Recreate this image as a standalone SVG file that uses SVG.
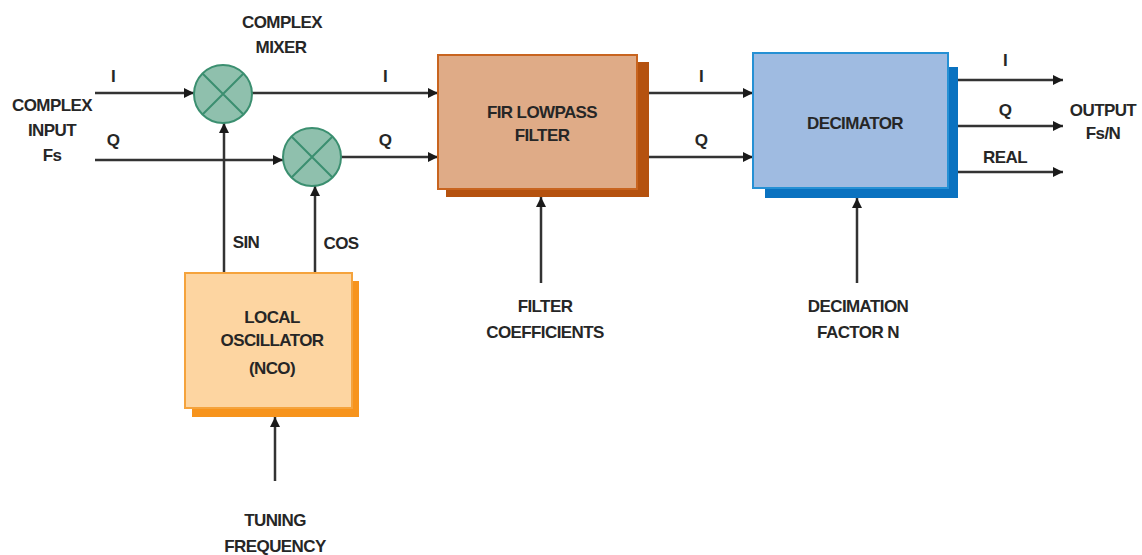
<svg xmlns="http://www.w3.org/2000/svg" width="1142" height="555" viewBox="0 0 1142 555">
<defs>
<marker id="ah" viewBox="0 0 10 10" refX="10" refY="5" markerWidth="10" markerHeight="10" markerUnits="userSpaceOnUse" orient="auto">
<path d="M0,0 L10,5 L0,10 z" fill="#1a1a1a"/>
</marker>
</defs>
<style>
text{font-family:"Liberation Sans",Arial,sans-serif;font-weight:bold;font-size:17px;fill:#262626;text-anchor:middle;letter-spacing:-0.6px}
.ln{stroke:#333;stroke-width:2.5;fill:none}
.mix{fill:#8fc0ad;stroke:#3b8f70;stroke-width:2}
.mx{stroke:#3b8f70;stroke-width:2}
</style>
<rect width="1142" height="555" fill="#ffffff"/>
<g id="connectors">
<path class="ln" d="M95,93 H194" marker-end="url(#ah)"/>
<path class="ln" d="M95,160 H283" marker-end="url(#ah)"/>
<path class="ln" d="M252,93 H438" marker-end="url(#ah)"/>
<path class="ln" d="M341,157 H438" marker-end="url(#ah)"/>
<path class="ln" d="M224,273 V123" marker-end="url(#ah)"/>
<path class="ln" d="M315,273 V186" marker-end="url(#ah)"/>
<path class="ln" d="M275,481 V417" marker-end="url(#ah)"/>
<path class="ln" d="M649,93 H753" marker-end="url(#ah)"/>
<path class="ln" d="M649,157 H753" marker-end="url(#ah)"/>
<path class="ln" d="M541,283 V197" marker-end="url(#ah)"/>
<path class="ln" d="M857,283 V198" marker-end="url(#ah)"/>
<path class="ln" d="M958,80 H1063" marker-end="url(#ah)"/>
<path class="ln" d="M958,126 H1063" marker-end="url(#ah)"/>
<path class="ln" d="M958,172 H1063" marker-end="url(#ah)"/>
<text x="113" y="82">I</text>
<text x="113" y="146">Q</text>
<text x="385" y="82">I</text>
<text x="385" y="146">Q</text>
<text x="701" y="82">I</text>
<text x="701" y="146">Q</text>
<text x="246" y="248">SIN</text>
<text x="341" y="249">COS</text>
<text x="1005" y="66">I</text>
<text x="1005" y="116">Q</text>
<text x="1005" y="163">REAL</text>
</g>
<g id="label-input">
<text x="52" y="111">COMPLEX</text>
<text x="52" y="136">INPUT</text>
<text x="52" y="161">Fs</text>
</g>
<g id="label-mixer">
<text x="282" y="28">COMPLEX</text>
<text x="281" y="53">MIXER</text>
</g>
<g id="mixer1">
<circle class="mix" cx="223" cy="94" r="29"/>
<path class="mx" d="M202.5,73.5 L243.5,114.5 M243.5,73.5 L202.5,114.5"/>
</g>
<g id="mixer2">
<circle class="mix" cx="312" cy="157" r="29"/>
<path class="mx" d="M291.5,136.5 L332.5,177.5 M332.5,136.5 L291.5,177.5"/>
</g>
<g id="fir">
<rect x="446" y="62" width="203" height="135" fill="#b5520f"/>
<rect x="438" y="55" width="199" height="134" fill="#dfab87" stroke="#c8641f" stroke-width="2"/>
<text x="542" y="118">FIR LOWPASS</text>
<text x="542" y="141">FILTER</text>
</g>
<g id="decimator">
<rect x="765" y="67" width="193" height="131" fill="#0a72c0"/>
<rect x="753" y="53" width="195" height="135" fill="#9fbbe1" stroke="#2590d4" stroke-width="2"/>
<text x="855" y="129">DECIMATOR</text>
</g>
<g id="nco">
<rect x="192" y="281" width="167" height="136" fill="#f7941d"/>
<rect x="185" y="273" width="167" height="135" fill="#fdd5a1" stroke="#f5a33c" stroke-width="2"/>
<text x="272" y="323">LOCAL</text>
<text x="272" y="346">OSCILLATOR</text>
<text x="272" y="374">(NCO)</text>
</g>
<g id="label-tuning">
<text x="275" y="526">TUNING</text>
<text x="275" y="552">FREQUENCY</text>
</g>
<g id="label-filtercoef">
<text x="545" y="312">FILTER</text>
<text x="545" y="338">COEFFICIENTS</text>
</g>
<g id="label-decim">
<text x="858" y="312">DECIMATION</text>
<text x="858" y="338">FACTOR N</text>
</g>
<g id="label-output">
<text x="1103" y="116">OUTPUT</text>
<text x="1103" y="139">Fs/N</text>
</g>
</svg>
